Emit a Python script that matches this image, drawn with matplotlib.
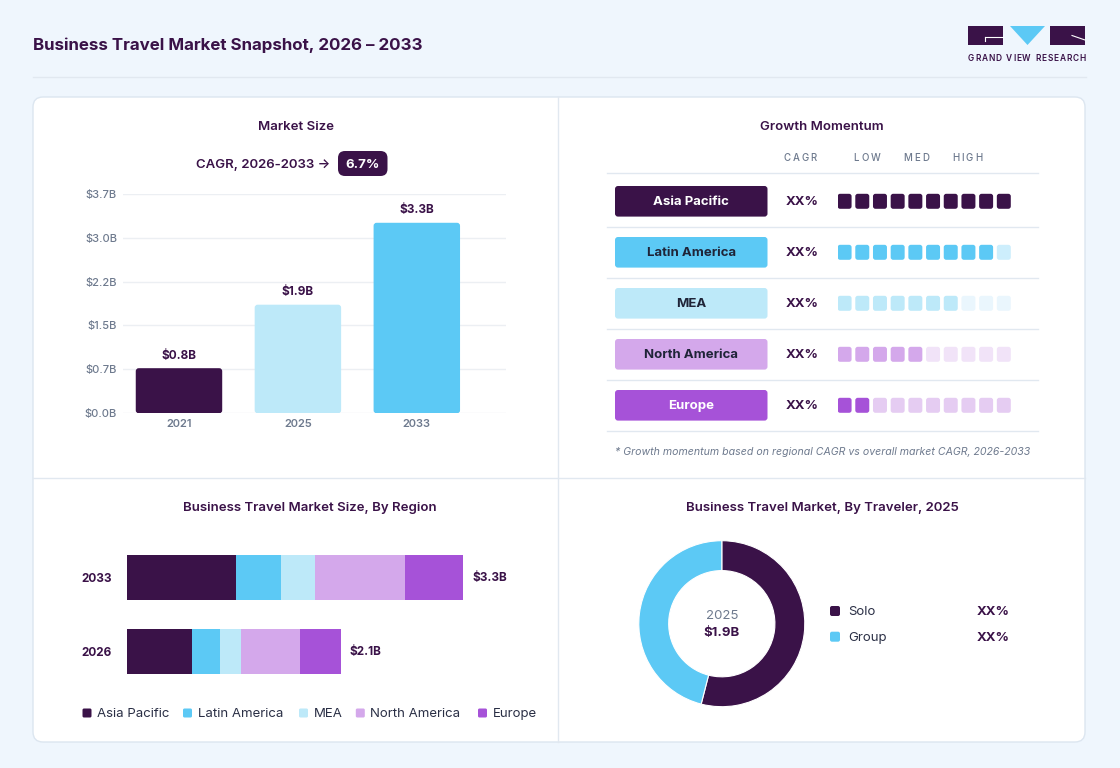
import matplotlib
matplotlib.use("Agg")
import matplotlib.pyplot as plt
from matplotlib.patches import FancyBboxPatch, Rectangle, Polygon
import numpy as np

# ---------------- data ----------------
years = ["2021", "2025", "2033"]
market_size = [0.76, 1.83, 3.21]
market_labels = ["$0.8B", "$1.9B", "$3.3B"]
y_max = 3.7
n_yticks = 6
cagr_text = "CAGR, 2026-2033 \u2192"
cagr_value = "6.7%"

regions = ["Asia Pacific", "Latin America", "MEA", "North America", "Europe"]
region_cagr = ["XX%", "XX%", "XX%", "XX%", "XX%"]
momentum_filled = [10, 9, 7, 5, 2]
momentum_total = 10
momentum_headers = ["CAGR", "LOW", "MED", "HIGH"]

stack_years = ["2033", "2026"]
stack_2033 = [1.07, 0.44, 0.33, 0.89, 0.57]
stack_2026 = [0.64, 0.27, 0.21, 0.58, 0.40]
stack_totals = ["$3.3B", "$2.1B"]

traveler = ["Solo", "Group"]
traveler_share = [54, 46]
traveler_labels = ["XX%", "XX%"]
donut_year = "2025"
donut_total = "$1.9B"

# ---------------- style ----------------
W, H, DPI = 1120, 768, 100
FONT = ["Inter", "DejaVu Sans"]
plt.rcParams["font.family"] = FONT
DARK = "#3A1248"
GRAY = "#6E7A8E"
LINE = "#E1E8F0"
BG = "#EFF6FD"
region_colors = ["#3A1248", "#5CC9F5", "#BDE9F9", "#D4A8EB", "#A652D8"]
region_light = ["#D9CFE0", "#CDEEFC", "#EAF6FD", "#F1E3F8", "#E5CCF2"]
region_text = ["white", "#1F2438", "#1F2438", "#1F2438", "white"]
bar_colors = ["#3A1248", "#BDE9F9", "#5CC9F5"]
traveler_colors = ["#3A1248", "#5CC9F5"]
DY = 1.0  # small baseline correction for centred text

fig = plt.figure(figsize=(W / DPI, H / DPI), dpi=DPI)
fig.patch.set_facecolor(BG)
renderer = fig.canvas.get_renderer()


def px_axes(x0, y0, x1, y1, z=2):
    ax = fig.add_axes([x0 / W, 1 - y1 / H, (x1 - x0) / W, (y1 - y0) / H], zorder=z)
    ax.patch.set_alpha(0)
    return ax


bg = px_axes(0, 0, W, H, z=0)
bg.set_xlim(0, W)
bg.set_ylim(H, 0)
bg.axis("off")


def spaced(ax, x, y, s, track, ha="center", **kw):
    widths = []
    for ch in s:
        if ch == " ":
            t = ax.text(0, 0, "n", **kw)
            w = t.get_window_extent(renderer).width * 0.5
        else:
            t = ax.text(0, 0, ch, **kw)
            w = t.get_window_extent(renderer).width
        t.remove()
        widths.append(w)
    total = sum(widths) + track * (len(s) - 1)
    if ha == "center":
        cx = x - total / 2
    elif ha == "right":
        cx = x - total
    else:
        cx = x
    for ch, w in zip(s, widths):
        if ch != " ":
            ax.text(cx, y, ch, ha="left", va="center", **kw)
        cx += w + track


# card
bg.add_patch(FancyBboxPatch((33, 97), 1052, 645, boxstyle="round,pad=0,rounding_size=10",
                            fc="white", ec="#DCE6F0", lw=1))
bg.plot([558, 558], [97, 742], color=LINE, lw=1)
bg.plot([33, 1085], [478, 478], color=LINE, lw=1)
bg.plot([33, 1086], [77, 77], color=LINE, lw=1)

# header
bg.text(33, 44 + DY, "Business Travel Market Snapshot, 2026 \u2013 2033", fontsize=12.2,
        fontweight="bold", color=DARK, va="center", ha="left")
# logo
bg.add_patch(Rectangle((968, 26), 35, 19, fc=DARK, ec="none"))
bg.plot([985, 1003], [37, 37], color="white", lw=0.8)
bg.plot([985, 985], [37, 40.5], color="white", lw=0.8)
bg.add_patch(Polygon([[1010, 26], [1045, 26], [1027.5, 45]], closed=True, fc="#5CC9F5", ec="none"))
bg.add_patch(Rectangle((1050, 26), 35, 19, fc=DARK, ec="none"))
bg.plot([1072, 1085], [35.5, 40], color="white", lw=0.8)
spaced(bg, 1027, 58.3, "GRAND VIEW RESEARCH", 0.9, fontsize=6, color=DARK, fontweight="semibold")

# ---------------- Market size ----------------
bg.text(296, 126 + DY, "Market Size", fontsize=9.5, color=DARK, fontweight="semibold", ha="center", va="center")
bg.text(330, 164 + DY, cagr_text, fontsize=9.5, color=DARK, fontweight="semibold", ha="right", va="center")
bg.add_patch(FancyBboxPatch((338, 151), 49.5, 25, boxstyle="round,pad=0,rounding_size=7",
                            fc=DARK, ec="none"))
bg.text(362.8, 164 + DY, cagr_value, fontsize=9.5, color="white", fontweight="bold", ha="center", va="center")

ax1 = px_axes(122.5, 193.7, 506, 413.3)
ax1.set_xlim(-0.475, 2.75)
ax1.set_ylim(0, y_max)
xs = np.arange(len(years))
bars = ax1.bar(xs, market_size, width=0.727, color=bar_colors, zorder=3)
xpp = 3.225 / 383.5
ypp = y_max / 219.6
for b, c in zip(bars, bar_colors):
    x0, y0 = b.get_x(), b.get_y()
    w, h = b.get_width(), b.get_height()
    b.set_visible(False)
    ax1.add_patch(FancyBboxPatch((x0, y0), w, h, boxstyle=f"round,pad=0,rounding_size={3*xpp}",
                                 mutation_aspect=ypp / xpp, fc=c, ec="none", zorder=3))
for x, v, lab in zip(xs, market_size, market_labels):
    ax1.annotate(lab, (x, v), xytext=(0, 9), textcoords="offset points", ha="center", va="center",
                 fontsize=8.5, fontweight="bold", color=DARK)
ticks = np.linspace(0, y_max, n_yticks)
ax1.set_yticks(ticks)
ax1.set_yticklabels([f"${t:.1f}B" for t in ticks], fontweight="medium")
ax1.set_xticks(xs)
ax1.set_xticklabels(years, fontweight="semibold")
ax1.tick_params(axis="y", length=0, pad=4, labelsize=8, labelcolor=GRAY)
ax1.tick_params(axis="x", length=0, pad=4, labelsize=8, labelcolor=GRAY)
for s in ax1.spines.values():
    s.set_visible(False)
ax1.grid(axis="y", color="#ECEFF3", lw=1, zorder=0)
ax1.set_axisbelow(True)

# ---------------- Growth momentum ----------------
bg.text(822, 126 + DY, "Growth Momentum", fontsize=9.5, color=DARK, fontweight="semibold", ha="center", va="center")
for lab, hx in zip(momentum_headers, [800, 867, 916, 967]):
    spaced(bg, hx, 157.3 + DY, lab, 2.0, fontsize=7, color=GRAY, fontweight="medium")
row_lines = [173.3, 227.3, 278.3, 329.3, 380.3, 431]
for yl in row_lines:
    bg.plot([607, 1038], [yl, yl], color=LINE, lw=1)
row_c = [201.3 + 51 * i for i in range(len(regions))]
for i, (reg, yc) in enumerate(zip(regions, row_c)):
    bg.add_patch(FancyBboxPatch((615, yc - 15.3), 152.5, 30.6, boxstyle="round,pad=0,rounding_size=3",
                                fc=region_colors[i], ec="none"))
    bg.text(691.2, yc + DY, reg, fontsize=9.5, fontweight="bold", color=region_text[i], ha="center", va="center")
    bg.text(802.6, yc + DY, region_cagr[i], fontsize=9.5, fontweight="bold", color=DARK, ha="center", va="center")

ax2 = px_axes(837.6, row_c[0] - 25.5, 1010.8, row_c[-1] + 25.5)
sq_w = 0.79
ax2.set_xlim(0, momentum_total - (1 - sq_w))
ax2.set_ylim(len(regions) - 0.5, -0.5)
ax2.axis("off")
xpp2 = (momentum_total - (1 - sq_w)) / 173.2
ypp2 = 1 / 51
sq_h = 15 * ypp2
for r, nf in enumerate(momentum_filled):
    for i in range(momentum_total):
        col = region_colors[r] if i < nf else region_light[r]
        ax2.add_patch(FancyBboxPatch((i, r - sq_h / 2), sq_w, sq_h,
                                     boxstyle=f"round,pad=0,rounding_size={2.5*xpp2}",
                                     mutation_aspect=ypp2 / xpp2, fc=col, ec="none"))
bg.text(823, 451 + DY, "* Growth momentum based on regional CAGR vs overall market CAGR, 2026-2033",
        fontsize=7.6, style="italic", color=GRAY, ha="center", va="center")

# ---------------- Market size by region ----------------
bg.text(310, 507 + DY, "Business Travel Market Size, By Region", fontsize=9.5, color=DARK,
        fontweight="semibold", ha="center", va="center")
ppb = 101.9
ax3 = px_axes(127.2, 540.8, 545, 688.4)
ax3.set_xlim(0, (545 - 127.2) / ppb)
ax3.set_ylim(1.5, -0.5)
stack = np.array([stack_2033, stack_2026])
left = np.zeros(2)
for j in range(len(regions)):
    ax3.barh([0, 1], stack[:, j], left=left, height=0.61, color=region_colors[j], edgecolor="none")
    left += stack[:, j]
for yi, (tot, lab) in enumerate(zip(left, stack_totals)):
    ax3.annotate(lab, (tot, yi), xytext=(6.3, 0), textcoords="offset points", ha="left", va="center",
                 fontsize=8.5, fontweight="bold", color=DARK)
ax3.set_yticks([0, 1])
ax3.set_yticklabels(stack_years, fontweight="bold")
ax3.tick_params(axis="y", length=0, pad=11, labelsize=8.5, labelcolor=DARK)
ax3.set_xticks([])
for s in ax3.spines.values():
    s.set_visible(False)

leg_sq = [82.5, 183, 299, 355.8, 478]
for j, reg in enumerate(regions):
    bg.add_patch(FancyBboxPatch((leg_sq[j], 708.5), 9, 9, boxstyle="round,pad=0,rounding_size=1.5",
                                fc=region_colors[j], ec="none"))
    bg.text(leg_sq[j] + 14.5, 713 + DY, reg, fontsize=9.5, color="#2A2F45", ha="left", va="center")

# ---------------- Donut ----------------
bg.text(822, 507 + DY, "Business Travel Market, By Traveler, 2025", fontsize=9.5, color=DARK,
        fontweight="semibold", ha="center", va="center")
ax4 = px_axes(721.8 - 83, 623.7 - 83, 721.8 + 83, 623.7 + 83)
ax4.pie(traveler_share, colors=traveler_colors, startangle=90, counterclock=False, radius=1,
        wedgeprops=dict(width=0.36, edgecolor="white", linewidth=0.8))
ax4.set_xlim(-1, 1)
ax4.set_ylim(-1, 1)
ax4.set_aspect("equal")
ax4.text(0, 0.095, donut_year, fontsize=9.5, color=GRAY, ha="center", va="center")
ax4.text(0, -0.11, donut_total, fontsize=9.5, color=DARK, fontweight="bold", ha="center", va="center")
for k, (nm, lab) in enumerate(zip(traveler, traveler_labels)):
    yy = 611 + 25.7 * k
    bg.add_patch(FancyBboxPatch((830, yy - 5), 10, 10, boxstyle="round,pad=0,rounding_size=2",
                                fc=traveler_colors[k], ec="none"))
    bg.text(848, yy + DY, nm, fontsize=9.5, color="#2A2F45", ha="left", va="center")
    bg.text(976.7, yy + DY, lab, fontsize=9.5, color=DARK, fontweight="bold", ha="left", va="center")

fig.savefig("out.png", dpi=DPI, facecolor=BG)
